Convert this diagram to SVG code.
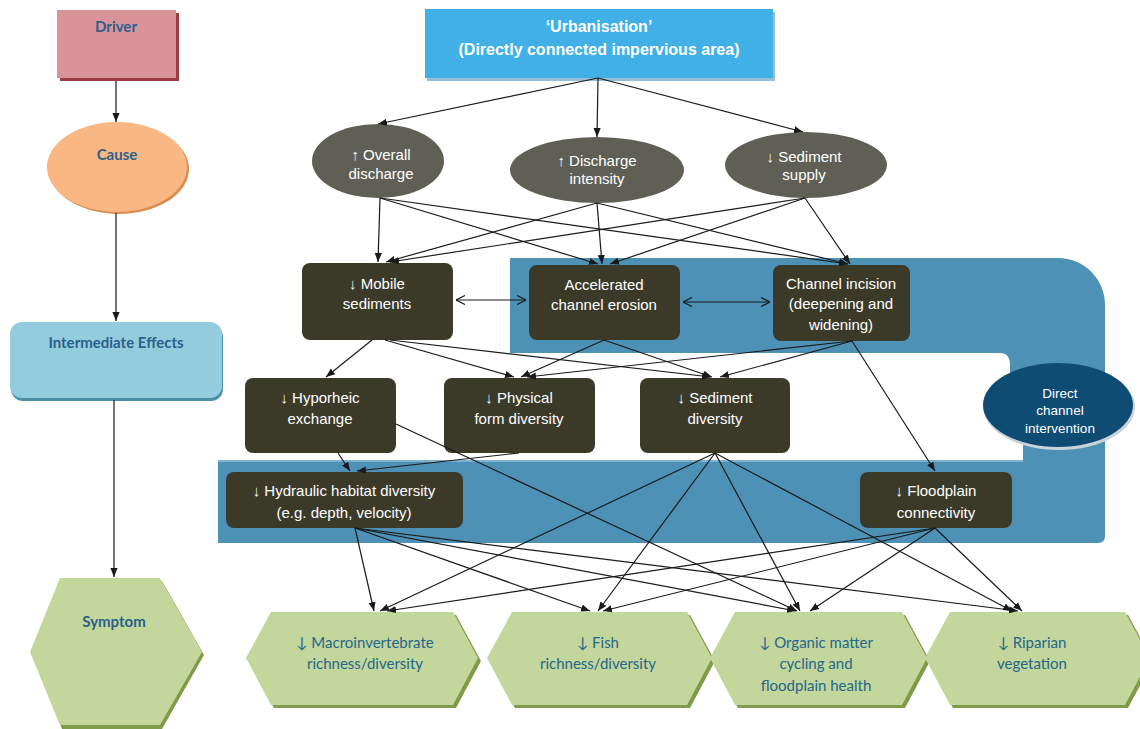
<svg xmlns="http://www.w3.org/2000/svg" width="1140" height="729" viewBox="0 0 1140 729">
<defs>
<marker id="ah" viewBox="0 0 10 10" refX="10" refY="5" markerWidth="9" markerHeight="9" markerUnits="userSpaceOnUse" orient="auto"><path d="M0,1 L10,5 L0,9 Z" fill="#1a1a1a"/></marker>
<marker id="ch" viewBox="0 0 10 10" refX="10" refY="5" markerWidth="10" markerHeight="10" markerUnits="userSpaceOnUse" orient="auto-start-reverse"><path d="M1,0.5 L10,5 L1,9.5" fill="none" stroke="#1a1a1a" stroke-width="1.2"/></marker>
</defs>
<style>
.lbl{font-family:Lato,"Open Sans","Liberation Sans",sans-serif;font-weight:bold;font-size:15px;fill:#2b5f8c;text-anchor:middle}
.hx{font-family:Lato,"Open Sans","Liberation Sans",sans-serif;font-size:15px;fill:#22678c;text-anchor:middle}
.bx{fill:#3b3a29}
.bt{font-family:"Liberation Sans Narrow","Liberation Sans",Arial,sans-serif;font-size:15px;fill:#ffffff;text-anchor:middle}
.el{fill:#5f5f55}
.hex{fill:#c3d69b}
.hexs{fill:#7f9a48}
.c{stroke:#1a1a1a;stroke-width:1.2;fill:none;marker-end:url(#ah)}
.bi{stroke:#1a1a1a;stroke-width:1.2;fill:none;marker-end:url(#ch);marker-start:url(#ch)}
</style>
<rect width="1140" height="729" fill="#ffffff"/>

<!-- blue band -->
<g id="band">
<path d="M510,258 H1058 A47,47 0 0 1 1105,305 V536 Q1105,543 1098,543 H218 V460 H1023 V420 H1010 V365 Q1010,353 1000,353 H510 Z" fill="#4d91b7"/>
<line x1="218" y1="461" x2="1023" y2="461" stroke="#8fbcd4" stroke-width="1.5"/>
</g>

<!-- legend column -->
<g id="driver">
<rect x="60" y="13" width="119" height="68" fill="#9b3b44"/>
<rect x="57" y="10" width="119" height="68" fill="#d9949a"/>
<text class="lbl" x="116" y="32">Driver</text>
</g>
<g id="cause">
<ellipse cx="119" cy="169" rx="70" ry="45" fill="#d98c4f"/>
<ellipse cx="117" cy="167" rx="70" ry="45" fill="#f8b783"/>
<text class="lbl" x="117" y="160">Cause</text>
</g>
<g id="intermediate">
<rect x="11" y="325" width="212" height="76" rx="12" fill="#4a8fa5"/>
<rect x="10" y="322" width="212" height="76" rx="12" fill="#93cddd"/>
<text class="lbl" x="116" y="348">Intermediate Effects</text>
</g>
<g id="symptom">
<polygon points="62,581 162,581 204,655 162,729 62,729 32,655" fill="#7f9a48"/>
<polygon points="60,578 160,578 202,652 160,725 60,725 30,652" fill="#c3d69b"/>
<text class="lbl" x="114" y="627">Symptom</text>
</g>

<!-- top -->
<g id="urbanisation">
<rect x="427" y="12" width="348" height="69" fill="#2a7fae" opacity="0.5"/>
<rect x="425" y="9" width="348" height="69" fill="#41b0e6"/>
<text x="599" y="32" font-family="'Liberation Sans',Arial,sans-serif" font-weight="bold" font-size="16" fill="#fff" text-anchor="middle">‘Urbanisation’</text>
<text x="599" y="55" font-family="'Liberation Sans',Arial,sans-serif" font-weight="bold" font-size="16" fill="#fff" text-anchor="middle">(Directly connected impervious area)</text>
</g>

<g id="overall-discharge">
<ellipse class="el" cx="378" cy="161" rx="66" ry="37"/>
<text class="bt" x="381" y="160">↑ Overall</text>
<text class="bt" x="381" y="179">discharge</text>
</g>
<g id="discharge-intensity">
<ellipse class="el" cx="597" cy="170" rx="87" ry="33"/>
<text class="bt" x="597" y="166">↑ Discharge</text>
<text class="bt" x="597" y="184">intensity</text>
</g>
<g id="sediment-supply">
<ellipse class="el" cx="806" cy="165" rx="81" ry="33"/>
<text class="bt" x="804" y="162">↓ Sediment</text>
<text class="bt" x="804" y="180">supply</text>
</g>

<g id="mobile-sediments">
<rect class="bx" x="302" y="263" width="151" height="77" rx="8"/>
<text class="bt" x="377" y="289">↓ Mobile</text>
<text class="bt" x="377" y="309">sediments</text>
</g>
<g id="accelerated-erosion">
<rect class="bx" x="529" y="265" width="151" height="75" rx="8"/>
<text class="bt" x="604" y="290">Accelerated</text>
<text class="bt" x="604" y="310">channel erosion</text>
</g>
<g id="channel-incision">
<rect class="bx" x="773" y="265" width="137" height="76" rx="8"/>
<text class="bt" x="841" y="289">Channel incision</text>
<text class="bt" x="841" y="309">(deepening and</text>
<text class="bt" x="841" y="330">widening)</text>
</g>

<g id="direct-intervention">
<ellipse cx="1059" cy="407" rx="76" ry="43" fill="#c9d3da"/>
<ellipse cx="1058" cy="405" rx="75" ry="42" fill="#0f4c74"/>
<text x="1060" y="398" font-family="'Liberation Sans',Arial,sans-serif" font-size="13.5" fill="#fff" text-anchor="middle">Direct</text>
<text x="1060" y="415" font-family="'Liberation Sans',Arial,sans-serif" font-size="13.5" fill="#fff" text-anchor="middle">channel</text>
<text x="1060" y="433" font-family="'Liberation Sans',Arial,sans-serif" font-size="13.5" fill="#fff" text-anchor="middle">intervention</text>
</g>

<g id="hyporheic">
<rect class="bx" x="245" y="378" width="151" height="75" rx="8"/>
<text class="bt" x="320" y="403">↓ Hyporheic</text>
<text class="bt" x="320" y="424">exchange</text>
</g>
<g id="physical-form">
<rect class="bx" x="444" y="378" width="151" height="75" rx="8"/>
<text class="bt" x="519" y="403">↓ Physical</text>
<text class="bt" x="519" y="424">form diversity</text>
</g>
<g id="sediment-diversity">
<rect class="bx" x="640" y="378" width="150" height="75" rx="8"/>
<text class="bt" x="715" y="403">↓ Sediment</text>
<text class="bt" x="715" y="424">diversity</text>
</g>

<g id="hydraulic">
<rect class="bx" x="226" y="472" width="237" height="56" rx="8"/>
<text class="bt" x="344" y="496">↓ Hydraulic habitat diversity</text>
<text class="bt" x="344" y="518">(e.g. depth, velocity)</text>
</g>
<g id="floodplain">
<rect class="bx" x="860" y="472" width="152" height="56" rx="8"/>
<text class="bt" x="936" y="496">↓ Floodplain</text>
<text class="bt" x="936" y="518">connectivity</text>
</g>

<g id="macroinvertebrate">
<polygon class="hexs" points="274,615 456,615 481,661 456,708 274,708 249,661"/>
<polygon class="hex" points="271,612 453,612 478,658 453,705 271,705 246,658"/>
<text class="hx" x="365" y="648">↓ Macroinvertebrate</text>
<text class="hx" x="365" y="669">richness/diversity</text>
</g>
<g id="fish">
<polygon class="hexs" points="515,615 690,615 715,661 690,708 515,708 490,661"/>
<polygon class="hex" points="512,612 687,612 712,658 687,705 512,705 487,658"/>
<text class="hx" x="598" y="648">↓ Fish</text>
<text class="hx" x="598" y="669">richness/diversity</text>
</g>
<g id="organic-matter">
<polygon class="hexs" points="738,615 905,615 930,661 905,708 738,708 713,661"/>
<polygon class="hex" points="735,612 902,612 927,658 902,705 735,705 710,658"/>
<text class="hx" x="816" y="648">↓ Organic matter</text>
<text class="hx" x="816" y="669">cycling and</text>
<text class="hx" x="816" y="691">floodplain health</text>
</g>
<g id="riparian">
<polygon class="hexs" points="953,615 1128,615 1153,661 1128,708 953,708 928,661"/>
<polygon class="hex" points="950,612 1125,612 1150,658 1125,705 950,705 925,658"/>
<text class="hx" x="1032" y="648">↓ Riparian</text>
<text class="hx" x="1032" y="669">vegetation</text>
</g>

<g id="connectors">
<line class="c" x1="116" y1="81" x2="116" y2="122"/>
<line class="c" x1="116" y1="213" x2="116" y2="321"/>
<line class="c" x1="114" y1="400" x2="114" y2="577"/>

<line class="c" x1="598" y1="78" x2="378" y2="124"/>
<line class="c" x1="598" y1="78" x2="597" y2="137"/>
<line class="c" x1="598" y1="78" x2="803" y2="132"/>

<line class="c" x1="380" y1="198" x2="378" y2="262"/>
<line class="c" x1="380" y1="198" x2="598" y2="264"/>
<line class="c" x1="380" y1="198" x2="848" y2="264"/>
<line class="c" x1="597" y1="203" x2="386" y2="262"/>
<line class="c" x1="597" y1="203" x2="602" y2="264"/>
<line class="c" x1="597" y1="203" x2="848" y2="264"/>
<line class="c" x1="805" y1="198" x2="390" y2="262"/>
<line class="c" x1="805" y1="198" x2="610" y2="264"/>
<line class="c" x1="805" y1="198" x2="850" y2="264"/>

<line class="bi" x1="456" y1="300" x2="526" y2="300"/>
<line class="bi" x1="683" y1="302" x2="770" y2="302"/>

<line class="c" x1="372" y1="340" x2="326" y2="377"/>
<line class="c" x1="385" y1="340" x2="514" y2="377"/>
<line class="c" x1="390" y1="340" x2="711" y2="377"/>
<line class="c" x1="604" y1="340" x2="521" y2="377"/>
<line class="c" x1="604" y1="340" x2="712" y2="377"/>
<line class="c" x1="852" y1="341" x2="527" y2="377"/>
<line class="c" x1="852" y1="341" x2="720" y2="377"/>
<line class="c" x1="852" y1="341" x2="935" y2="471"/>

<line class="c" x1="338" y1="453" x2="350" y2="471"/>
<line class="c" x1="519" y1="453" x2="357" y2="471"/>
<line class="c" x1="396" y1="424" x2="797" y2="611"/>

<line class="c" x1="715" y1="453" x2="380" y2="611"/>
<line class="c" x1="715" y1="453" x2="598" y2="611"/>
<line class="c" x1="715" y1="453" x2="800" y2="611"/>
<line class="c" x1="715" y1="453" x2="1012" y2="611"/>

<line class="c" x1="355" y1="528" x2="374" y2="611"/>
<line class="c" x1="355" y1="528" x2="590" y2="611"/>
<line class="c" x1="355" y1="528" x2="796" y2="611"/>
<line class="c" x1="355" y1="528" x2="1018" y2="611"/>

<line class="c" x1="935" y1="528" x2="387" y2="611"/>
<line class="c" x1="935" y1="528" x2="603" y2="611"/>
<line class="c" x1="935" y1="528" x2="810" y2="611"/>
<line class="c" x1="935" y1="528" x2="1022" y2="611"/>
</g>
</svg>
